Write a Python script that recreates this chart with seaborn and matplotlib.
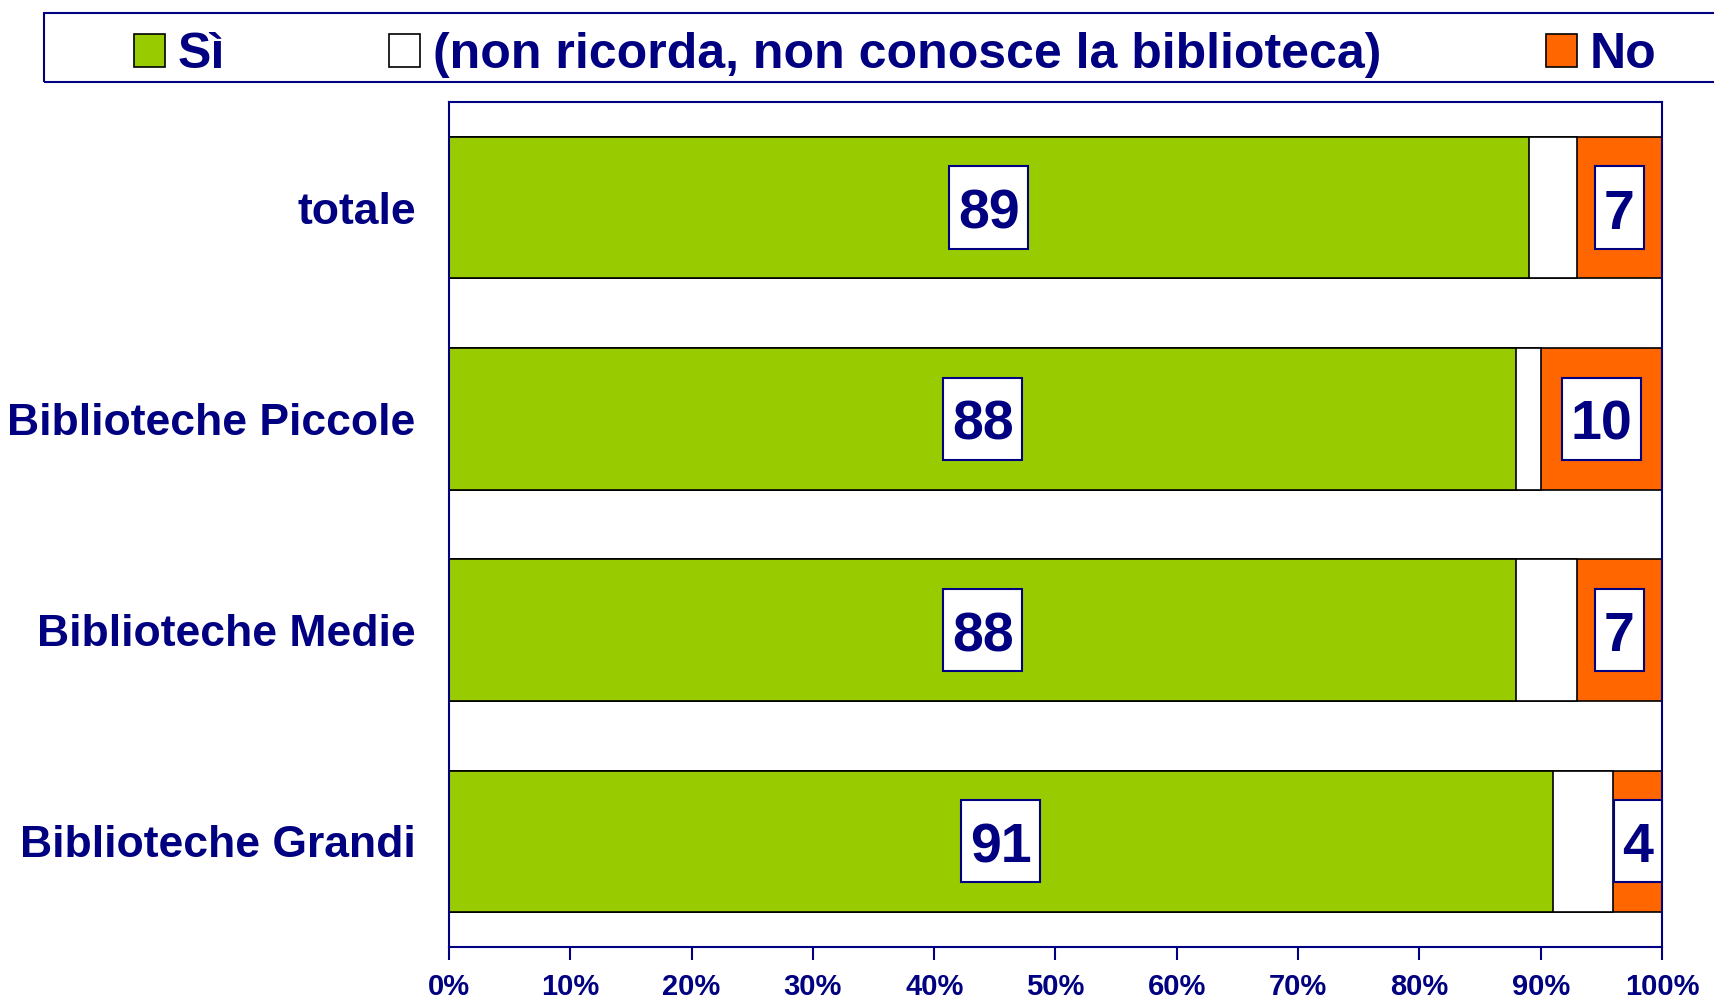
import numpy as np
import pandas as pd
import matplotlib
matplotlib.use('Agg')
import matplotlib.pyplot as plt
from matplotlib.patches import Rectangle
from matplotlib.path import Path
import seaborn as sns

# ── 데이터 ───────────────────────────────────────────────────────────────
categories = ['totale', 'Biblioteche Piccole', 'Biblioteche Medie', 'Biblioteche Grandi']
si = [89, 88, 88, 91]
non_ricorda = [4, 2, 5, 5]
no = [7, 10, 7, 4]
series_names = ['Sì', '(non ricorda, non conosce la biblioteca)', 'No']
x_ticks = [0, 10, 20, 30, 40, 50, 60, 70, 80, 90, 100]

# ── 스타일 ───────────────────────────────────────────────────────────────
sns.set_style('white')
plt.rcParams['font.family'] = ['Liberation Sans', 'DejaVu Sans']
plt.rcParams['font.weight'] = 'bold'
NAVY = '#000080'
GREEN = '#99CC00'
ORANGE = '#FF6600'
WHITE = '#FFFFFF'


def label_box(x0, y0, width, height, mutation_size):
    # 가로는 좁게, 세로는 넉넉하게 (위쪽을 조금 더)
    px, pt, pb = 0.155 * mutation_size, 0.40 * mutation_size, 0.145 * mutation_size
    x1, y1 = x0 + width + px, y0 + height + pt
    x0, y0 = x0 - px, y0 - pb
    return Path([(x0, y0), (x1, y0), (x1, y1), (x0, y1), (x0, y0)], closed=True)


df = pd.DataFrame({'cat': categories, 'si': si, 'nr': non_ricorda, 'no': no})
df['cum_nr'] = df['si'] + df['nr']
df['cum_no'] = df['cum_nr'] + df['no']

fig = plt.figure(figsize=(17.15, 10), dpi=100)
ax = fig.add_axes([449 / 1715, 0.053, (1662 - 449) / 1715, 0.898 - 0.053])

# 누적 막대: 뒤에서부터 그림
for col, color in [('cum_no', ORANGE), ('cum_nr', WHITE), ('si', GREEN)]:
    sns.barplot(data=df, x=col, y='cat', orient='h', color=color,
                edgecolor='black', linewidth=1.2, width=0.67,
                errorbar=None, saturation=1, ax=ax)

# 값 라벨 (흰 박스)
box = dict(boxstyle=label_box, facecolor='white', edgecolor=NAVY, linewidth=1.5)
for i, r in df.iterrows():
    for xv, val in [(r['si'] / 2, r['si']), (r['cum_nr'] + r['no'] / 2, r['no'])]:
        ax.annotate(str(val), xy=(xv, i), xytext=(0, -7), textcoords='offset pixels',
                    ha='center', va='center', fontsize=40, color=NAVY,
                    fontweight='bold', bbox=box)

ax.set_xlim(0, 100)
ax.set_ylim(3.5, -0.5)
ax.set_xlabel('')
ax.set_ylabel('')
ax.set_xticks(x_ticks)
ax.set_xticklabels([f'{v}%' for v in x_ticks], fontsize=21, color=NAVY, fontweight='bold')
ax.set_yticks(range(len(categories)))
ax.set_yticklabels(categories, fontsize=32, color=NAVY, fontweight='bold')
ax.set_yticks(np.arange(-0.5, len(categories), 1.0), minor=True)
ax.tick_params(axis='y', which='major', length=0, pad=24)
ax.tick_params(axis='y', which='minor', length=8, width=1.5, color=NAVY, direction='out')
ax.tick_params(axis='x', which='major', length=9, width=1.5, color=NAVY,
               direction='out', pad=10, bottom=True)
for sp in ax.spines.values():
    sp.set_visible(True)
    sp.set_color(NAVY)
    sp.set_linewidth(1.5)

# 범례
handles = [Rectangle((0, 0), 1, 1, facecolor=c, edgecolor='black', linewidth=1.2)
           for c in [GREEN, WHITE, ORANGE]]
fig.legend(handles, series_names, loc='center', bbox_to_anchor=(0.522, 0.945),
           ncol=3, frameon=False, prop=dict(size=36, weight='bold'),
           labelcolor=NAVY, handlelength=0.62, handleheight=0.62,
           handletextpad=0.26, columnspacing=3.28, borderaxespad=0)
fig.patches.append(Rectangle((44 / 1715, 0.918), 1.0, 0.069, transform=fig.transFigure,
                             fill=False, edgecolor=NAVY, linewidth=1.5))

fig.savefig('out.png', dpi=100)
